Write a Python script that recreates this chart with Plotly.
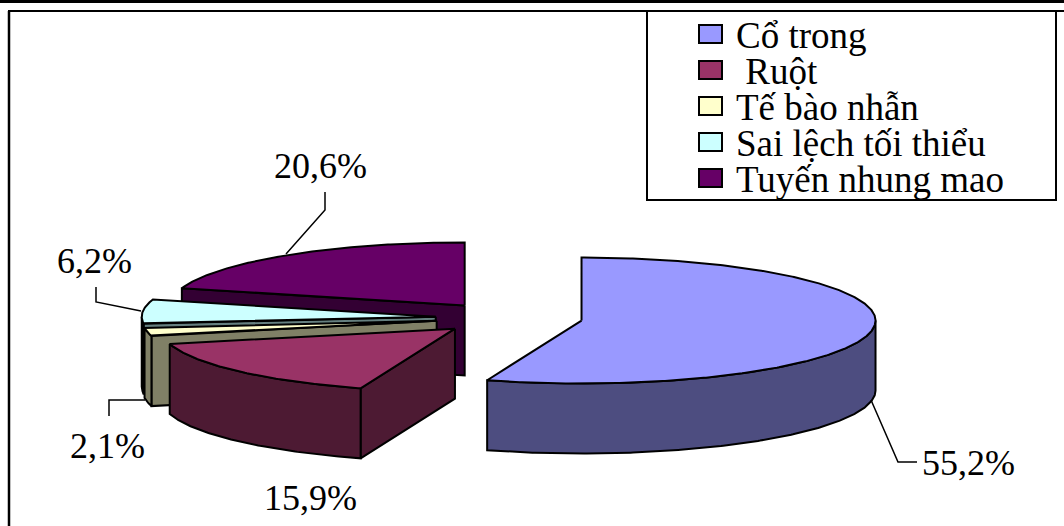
import numpy as np
import plotly.graph_objects as go

# Chart data
categories = ["Cổ trong", "Ruột", "Tế bào nhẫn", "Sai lệch tối thiểu", "Tuyến nhung mao"]
values = [55.2, 15.9, 2.1, 6.2, 20.6]
top_colors = ["#9999FF", "#993366", "#FFFFCC", "#CCFFFF", "#660066"]
side_colors = ["#4D4D80", "#4D1A33", "#808066", "#668080", "#330033"]

# Projection of the exploded 3D pie onto the page
CX, CY = 509, 318
RX, RY = 294, 63
DEPTH = 70
EXPLODE = 0.25
FONT = "Liberation Serif, Times New Roman, serif"
INK = "#000000"

fig = go.Figure()


def rim(center, a, b, drop=0):
    """Points on the slice rim between clock angles a and b (degrees)."""
    t = np.radians(np.linspace(a, b, max(2, int(abs(b - a)) * 2)))
    return center[0] + RX * np.sin(t), center[1] - RY * np.cos(t) + drop


def polygon(xs, ys, fill, name, width=2):
    fig.add_trace(go.Scatter(
        x=list(xs) + [xs[0]], y=list(ys) + [ys[0]], mode="lines", fill="toself",
        fillcolor=fill, line=dict(color=INK, width=width, shape="linear"),
        name=name, showlegend=False, hoverinfo="name",
    ))


# Angular extent and exploded centre of each slice
ends = np.cumsum(values) / sum(values) * 360
starts = np.concatenate([[0], ends[:-1]])
centers = []
for a, b in zip(starts, ends):
    mid = np.radians((a + b) / 2)
    centers.append((CX + EXPLODE * RX * np.sin(mid), CY - EXPLODE * RY * np.cos(mid)))

# Back slices are painted first so the nearer ones cover them
for i in reversed(range(len(values))):
    a, b, c = starts[i], ends[i], centers[i]
    name = categories[i]

    # Radial cut face, drawn only when it turns toward the viewer
    if np.sin(np.radians(a)) < -1e-6:
        ex, ey = rim(c, a, a)
        polygon([c[0], ex[0], ex[0], c[0]],
                [c[1], ey[0], ey[0] + DEPTH, c[1] + DEPTH], side_colors[i], name)

    # Outer wall over the front half of the rim
    lo, hi = max(a, 90), min(b, 270)
    if lo < hi:
        tx, ty = rim(c, lo, hi)
        bx, by = rim(c, hi, lo, DEPTH)
        polygon(np.r_[tx, bx], np.r_[ty, by], side_colors[i], name)

    # Top face
    tx, ty = rim(c, a, b)
    polygon(np.r_[c[0], tx], np.r_[c[1], ty], top_colors[i], name)

# Leader lines from the slices to their labels
leaders = [
    ([871, 898, 917], [400, 462, 462]),
    ([145, 109, 109], [400, 400, 416]),
    ([96, 96, 141], [287, 302, 311]),
    ([286, 325, 325], [254, 210, 192]),
]
for lx, ly in leaders:
    fig.add_trace(go.Scatter(x=lx, y=ly, mode="lines", showlegend=False, hoverinfo="skip",
                             line=dict(color=INK, width=1.5)))

annotations = []
label_positions = [(968, 463), (310, 498), (107, 446), (94, 261), (320, 166)]
for v, (lx, ly) in zip(values, label_positions):
    annotations.append(dict(x=lx, y=ly, text=f"{v:.1f}%".replace(".", ","), showarrow=False,
                            xanchor="center", yanchor="middle",
                            font=dict(family=FONT, size=36, color=INK)))

# Frame and ruled lines around the chart
shapes = [
    dict(type="line", x0=0, x1=1064, y0=1.5, y1=1.5, line=dict(color=INK, width=3)),
    dict(type="line", x0=481, x1=481, y0=0, y1=3, line=dict(color=INK, width=2)),
    dict(type="line", x0=800, x1=800, y0=0, y1=3, line=dict(color=INK, width=2)),
    dict(type="line", x0=8, x1=1064, y0=11, y1=11, line=dict(color=INK, width=2)),
    dict(type="line", x0=9, x1=9, y0=11, y1=526, line=dict(color=INK, width=2.5)),
    dict(type="rect", x0=647, x1=1056, y0=11, y1=200, fillcolor="#FFFFFF",
         line=dict(color=INK, width=2)),
]

# Legend box
row_centers = [34, 70, 106, 142, 178]
for name, color, yc in zip(categories, top_colors, row_centers):
    shapes.append(dict(type="rect", x0=699, x1=722, y0=yc - 9, y1=yc + 9, fillcolor=color,
                       line=dict(color=INK, width=2)))
    text = "\u00a0" + name if name == "Ruột" else name
    annotations.append(dict(x=734, y=yc + 1, text=text, showarrow=False, xanchor="left",
                            yanchor="middle",
                            font=dict(family=FONT, size=37, color=INK)))

fig.update_layout(
    width=1064, height=526, margin=dict(l=0, r=0, t=0, b=0),
    paper_bgcolor="#FFFFFF", plot_bgcolor="#FFFFFF", showlegend=False,
    xaxis=dict(range=[0, 1064], visible=False, fixedrange=True),
    yaxis=dict(range=[526, 0], visible=False, fixedrange=True),
    shapes=shapes, annotations=annotations,
)
fig.write_html("out.html", config=dict(displayModeBar=False))
